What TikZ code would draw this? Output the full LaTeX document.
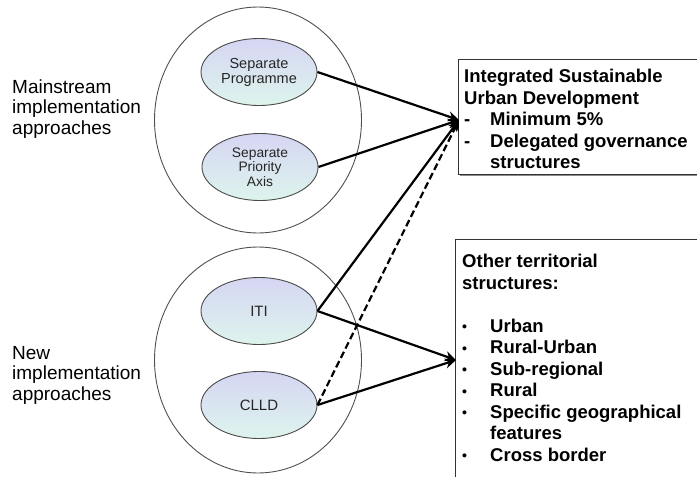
\documentclass[tikz,border=0pt]{standalone}
\usepackage{fontspec}
\setmainfont{Liberation Sans}
\usetikzlibrary{shapes.geometric,arrows.meta}

\definecolor{ovaltop}{HTML}{D6D6F3}
\definecolor{ovalbot}{HTML}{DDF4EC}
\definecolor{ovalline}{HTML}{4A4A4A}
\definecolor{groupline}{HTML}{505050}

\tikzset{
  groupring/.style={ellipse, draw=groupline, line width=0.9pt,
    minimum width=207pt, minimum height=226pt, inner sep=0pt},
  oval/.style={ellipse, draw=ovalline, line width=0.9pt,
    top color=ovaltop, bottom color=ovalbot,
    minimum width=116pt, minimum height=67pt, inner sep=0pt,
    align=center, text=black!85,
    font=\fontsize{14.5}{15}\selectfont},
  sidelabel/.style={anchor=west, align=left, inner sep=0pt,
    font=\fontsize{19}{20.5}\selectfont},
  infobox/.style={draw=black!80, line width=0.8pt, fill=white,
    anchor=north west, inner sep=0pt},
  boxshadow/.style={fill=black!45},
  boxtext/.style={anchor=north west, align=left, inner sep=0pt,
    font=\bfseries\fontsize{18.5}{21.5}\selectfont},
  link/.style={line width=2.2pt, -{Stealth[length=11pt,width=10pt,inset=3.5pt]}},
  dashlink/.style={link, dash pattern=on 7pt off 3.5pt}
}

\newcommand{\listdot}{\makebox[28pt][l]{\raisebox{0.5pt}{\fontsize{14}{14}\selectfont\textbullet}}}
\newcommand{\listdash}{\makebox[26pt][l]{-}}

\begin{document}
\begin{tikzpicture}[x=1pt,y=-1pt]
\useasboundingbox (0,0) rectangle (697,477);

% grouping rings
\node[groupring] (mainring) at (258,120) {};
\node[groupring] (newring)  at (258,360) {};

% left-hand labels
\node[sidelabel] (mainlbl) at (12,109) {Mainstream\\implementation\\approaches};
\node[sidelabel] (newlbl)  at (12,375) {New\\implementation\\approaches};

% implementation ovals
\node[oval] (sepprog) at (259,72)  {Separate\\Programme};
\node[oval, font=\fontsize{13.8}{14.5}\selectfont] (sepaxis) at (260,167) {Separate\\Priority\\Axis};
\node[oval, font=\fontsize{15}{16}\selectfont] (iti)  at (259,311) {ITI};
\node[oval, font=\fontsize{15}{16}\selectfont] (clld) at (259,405) {CLLD};

% Integrated Sustainable Urban Development box
\fill[boxshadow] (460,61) rectangle (712,176);
\node[infobox, minimum width=252pt, minimum height=115pt] (isudbox) at (458,59) {};
\node[boxtext] (isudtext) at (464,69) {Integrated Sustainable\\Urban Development\\
  \listdash Minimum 5\%\\
  \listdash Delegated governance\\
  \hspace*{26pt}structures};

% Other territorial structures box
\node[infobox, minimum width=252pt, minimum height=250pt] (otherbox) at (455,239) {};
\node[boxtext] (othertext) at (462,254) {Other territorial\\structures:\\[21.5pt]
  \listdot Urban\\
  \listdot Rural-Urban\\
  \listdot Sub-regional\\
  \listdot Rural\\
  \listdot Specific geographical\\
  \hspace*{28pt}features\\
  \listdot Cross border};

% arrow targets on the boxes
\coordinate (isudin)  at (459,120);
\coordinate (otherin) at (456,360);

% connectors
\draw[link] (sepprog.east) -- (isudin);
\draw[link] (sepaxis.east) -- (isudin);
\draw[link] (iti.east) -- (isudin);
\draw[dashlink] (clld.east) -- (isudin);
\draw[link] (iti.east) -- (otherin);
\draw[link] (clld.east) -- (otherin);
\end{tikzpicture}
\end{document}
